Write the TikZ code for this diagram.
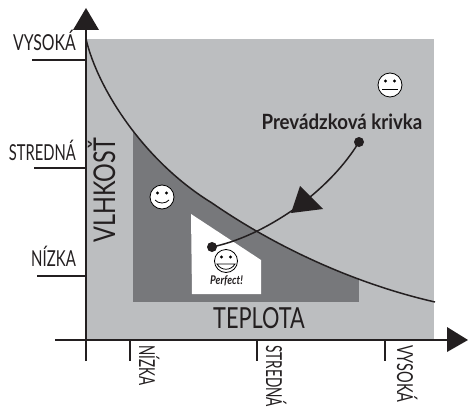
\documentclass[tikz,border=0pt]{standalone}
\usepackage{fontspec}
\setmainfont{Lato}
\definecolor{lightg}{HTML}{BCBEC0}
\definecolor{darkg}{HTML}{77787B}
\definecolor{inkc}{HTML}{231F20}
\tikzset{
  axisl/.style={draw=inkc,line width=1.7pt},
  tick/.style={draw=inkc,line width=1.7pt},
  lab/.style={text=inkc,font=\fontsize{22}{22}\selectfont,xscale=#1,inner sep=0,anchor=base east},
  labv/.style={text=inkc,font=\fontsize{22}{22}\selectfont,rotate=-90,xscale=#1,inner sep=0,anchor=base west},
  face/.style={circle,draw=black,fill=white,line width=.8pt,minimum size=#1,inner sep=0},
  dotn/.style={circle,fill=inkc,inner sep=0,minimum size=10pt},
  curvel/.style={draw=inkc,line width=1.5pt},
}
\def\mainc{(86,39) .. controls (98,90) and (145,162) .. (212,203) .. controls (280,250) and (360,285) .. (435,302)}
\begin{document}
\begin{tikzpicture}[x=1pt,y=-1pt]
\useasboundingbox (0,0) rectangle (468,409);
\fill[lightg] (86,39) rectangle (434,339);
\begin{scope}
\clip \mainc -- (435,340) -- (86,340) -- cycle;
\fill[darkg] (133,120) rectangle (359,302);
\end{scope}
\fill[white] (191,214) -- (261,260) -- (261,294) -- (192,294) -- cycle;
\path[curvel] \mainc;
% axes
\coordinate (yb) at (86,361); \coordinate (yt) at (86,30);
\coordinate (xb) at (55,340); \coordinate (xt) at (447,340);
\draw[axisl] (yb) -- (yt);
\draw[axisl] (xb) -- (xt);
\fill[inkc] (73,30) -- (86,8) -- (99,30) -- cycle;
\fill[inkc] (447,327) -- (468,340) -- (447,352) -- cycle;
\coordinate (a1) at (32,60); \coordinate (a1e) at (86,60);
\coordinate (a2) at (34,168); \coordinate (a2e) at (86,168);
\coordinate (a3) at (37,276); \coordinate (a3e) at (86,276);
\draw[tick] (a1) -- (a1e); \draw[tick] (a2) -- (a2e); \draw[tick] (a3) -- (a3e);
\coordinate (b1) at (130,340); \coordinate (b1e) at (130,361);
\coordinate (b2) at (257,340); \coordinate (b2e) at (257,361);
\coordinate (b3) at (385,340); \coordinate (b3e) at (385,361);
\draw[tick] (b1) -- (b1e); \draw[tick] (b2) -- (b2e); \draw[tick] (b3) -- (b3e);
% labels
\node[lab=.72] (vys) at (76,51) {VYSOKÁ};
\node[lab=.67] (str) at (76,160) {STREDNÁ};
\node[lab=.68] (niz) at (76,266) {NÍZKA};
\node[labv=.61] (n2) at (139,345) {NÍZKA};
\node[labv=.62] (s2) at (266,345) {STREDNÁ};
\node[labv=.66] (v2) at (397,345) {VYSOKÁ};
\node[text=inkc,font=\fontsize{30}{30}\selectfont,rotate=90,xscale=.78,inner sep=0,anchor=base] (vl) at (115,190) {VLHKOSŤ};
\node[text=inkc,font=\fontsize{29}{29}\selectfont,xscale=.75,inner sep=0,anchor=base] (tp) at (259,328) {TEPLOTA};
\node[text=inkc,font=\bfseries\fontsize{21}{21}\selectfont,xscale=.89,inner sep=0,anchor=base] (pk) at (342,129) {Prevádzková krivka};
% operating curve
\node[dotn] (d1) at (359,142) {};
\node[dotn] (d2) at (212,247) {};
\draw[curvel] (d1.center) .. controls (345,165) and (325,186) .. (300,205) .. controls (275,223) and (245,240) .. (d2.center);
\fill[inkc] (300,186) -- (323,209) -- (291,213) -- cycle;
% faces
\node[face=24pt] (fn) at (390,85) {};
\node[face=24pt] (fh) at (162,197) {};
\fill[black] (385.5,81) circle (1.6) (394.5,81) circle (1.6);
\draw[black,line width=.8pt] (382,89) -- (398,89);
\fill[black] (157.5,193) circle (1.6) (166.5,193) circle (1.6);
\draw[black,line width=.8pt] (155,200) .. controls (158,204) and (166,204) .. (169,200);
\node[face=23pt] (fp) at (226,261) {};
\fill[black] (221.5,257) circle (1.6) (230.5,257) circle (1.6);
\draw[black,fill=white,line width=.8pt] (217,264) .. controls (221,271) and (231,271) .. (235,264) -- cycle;
\node[text=inkc,font=\bfseries\itshape\fontsize{12}{12}\selectfont,xscale=.83,inner sep=0,anchor=base] (pf) at (226.5,284) {Perfect!};
\end{tikzpicture}
\end{document}
